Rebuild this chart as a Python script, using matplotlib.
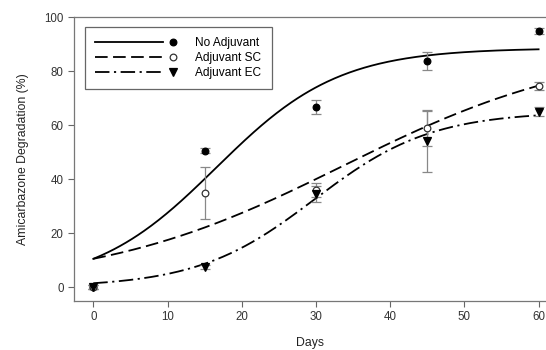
import numpy as np
import matplotlib
matplotlib.use("Agg")
import matplotlib.pyplot as plt
from matplotlib.legend_handler import HandlerLine2DCompound
from matplotlib.lines import Line2D

plt.rcParams['font.family'] = ['Liberation Sans', 'DejaVu Sans']

days = [0, 15, 30, 45, 60]
series_names = ["No Adjuvant", "Adjuvant SC", "Adjuvant EC"]
no_adj = [0, 50.5, 66.7, 83.8, 94.8]
no_adj_err = [0.8, 1.0, 2.6, 3.3, 1.0]
adj_sc = [0, 35.0, 36.0, 58.8, 74.5]
adj_sc_err = [0.8, 9.6, 2.5, 6.4, 1.5]
adj_ec = [0, 7.5, 34.5, 54.0, 65.0]
adj_ec_err = [0.8, 0.8, 3.0, 11.5, 1.7]

# logistic fit parameters (a, x0, b)
fit_no_adj = (88.5, 16.57, 8.26)
fit_sc = (90.0, 33.72, 16.66)
fit_ec = (65.0, 29.8, 7.9)

xticks = [0, 10, 20, 30, 40, 50, 60]
yticks = [0, 20, 40, 60, 80, 100]


def logistic(x, p):
    a, x0, b = p
    return a / (1 + np.exp(-(x - x0) / b))


W, H = 546, 350
fig = plt.figure(figsize=(W / 100, H / 100), dpi=100)
ax = fig.add_axes([74 / W, 1 - 300.7 / H, 1 - 74 / W, (300.7 - 17) / H])

xs = np.linspace(0, 60, 300)
styles = [
    dict(ls='-', marker='o', mfc='black', mec='black', ms=4.8),
    dict(ls=(0, (7, 3)), marker='o', mfc='white', mec='#333333', ms=4.8),
    dict(ls=(0, (8, 2.5, 1.2, 2.5)), marker='v', mfc='black', mec='black', ms=5.2),
]
data = [(no_adj, no_adj_err, fit_no_adj), (adj_sc, adj_sc_err, fit_sc), (adj_ec, adj_ec_err, fit_ec)]

handles = []
for (vals, errs, fit), st, name in zip(data, styles, series_names):
    ax.plot(xs, logistic(xs, fit), color='black', lw=1.3, ls=st['ls'], zorder=2)
    ax.errorbar(days, vals, yerr=errs, fmt='none', ecolor='#888888', elinewidth=0.9,
                capsize=3.5, capthick=0.9, zorder=3)
    ax.plot(days, vals, ls='none', marker=st['marker'], mfc=st['mfc'], mec=st['mec'],
            ms=st['ms'], mew=0.9, zorder=4)
    handles.append(Line2D([], [], color='black', lw=1.3, ls=st['ls'], marker=st['marker'],
                          mfc=st['mfc'], mec=st['mec'], ms=st['ms'], mew=0.9))


class RightMarkerHandler(HandlerLine2DCompound):
    def get_xdata(self, legend, xdescent, ydescent, width, height, fontsize):
        xdata = np.array([-xdescent, -xdescent + width - 7])
        xm = np.array([-xdescent + width])
        return xdata, xm


leg = ax.legend(handles, series_names, loc='upper left',
                bbox_to_anchor=(85 / W, 1 - 27 / H), bbox_transform=fig.transFigure,
                handler_map={Line2D: RightMarkerHandler()}, handlelength=6.5,
                handletextpad=1.9, fontsize=8.6, frameon=True, fancybox=False,
                borderaxespad=0, borderpad=0.85, labelspacing=0.25, framealpha=1)
leg.get_frame().set_edgecolor('#666666')
leg.get_frame().set_linewidth(0.9)

ax.set_xlim(-2.6, 61.0)
ax.set_ylim(-5, 100)
ax.set_xticks(xticks)
ax.set_yticks(yticks)
ax.tick_params(direction='out', length=4, width=0.8, color='#666666', labelsize=8.3,
               labelcolor='#333333')
for s in ['left', 'bottom', 'top']:
    ax.spines[s].set_color('#777777')
    ax.spines[s].set_linewidth(0.9)
ax.spines['right'].set_visible(False)

ax.set_xlabel('Days', fontsize=8.8, color='#222222', labelpad=10)
ax.set_ylabel('Amicarbazone Degradation (%)', fontsize=8.8, color='#222222', labelpad=11)

fig.savefig('out.png', dpi=100)
